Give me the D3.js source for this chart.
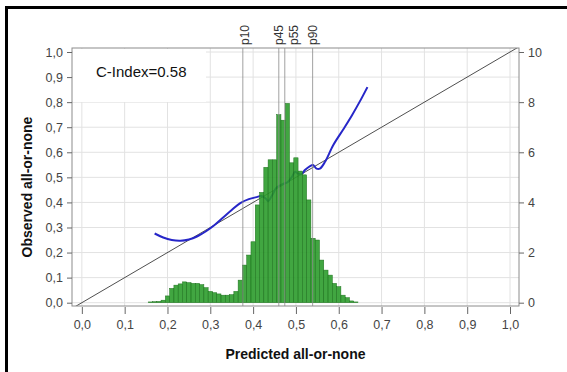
<!DOCTYPE html>
<html>
<head>
<meta charset="utf-8">
<script src="https://cdn.jsdelivr.net/npm/d3@7"></script>
<style>
  body { margin: 0; background: #fff; }
  text { font-family: "Liberation Sans", Arial, sans-serif; }
</style>
</head>
<body>
<div id="vis"></div>
<script>
// histogram: bin centres (predicted) and share in percent (right axis)
var binCenters = [0.16, 0.17, 0.18, 0.19, 0.20, 0.21, 0.22, 0.23, 0.24, 0.25,
    0.26, 0.27, 0.28, 0.29, 0.30, 0.31, 0.32, 0.33, 0.34, 0.35,
    0.36, 0.37, 0.38, 0.39, 0.40, 0.41, 0.42, 0.43, 0.44, 0.45,
    0.46, 0.47, 0.48, 0.49, 0.50, 0.51, 0.52, 0.53, 0.54, 0.55,
    0.56, 0.57, 0.58, 0.59, 0.60, 0.61, 0.62, 0.63, 0.64];
var binPercent = [0.03, 0.04, 0.05, 0.1, 0.27, 0.57, 0.7, 0.75, 0.83, 0.8,
    0.77, 0.77, 0.72, 0.6, 0.45, 0.4, 0.35, 0.3, 0.3, 0.32,
    0.45, 0.9, 1.5, 1.9, 2.43, 3.9, 4.4, 5.4, 5.7, 5.7,
    7.5, 7.28, 7.95, 5.58, 5.78, 5.25, 5.1, 4.1, 2.57, 2.5,
    1.7, 1.3, 1.1, 0.77, 0.64, 0.3, 0.2, 0.07, 0.03];

// calibration curve
var calPredicted = [0.17, 0.19, 0.21, 0.23, 0.25, 0.27, 0.29, 0.31, 0.33, 0.35,
    0.37, 0.39, 0.41, 0.42, 0.43, 0.435, 0.445, 0.455, 0.47, 0.48,
    0.49, 0.498, 0.505, 0.513, 0.521, 0.533, 0.54, 0.548, 0.556, 0.568,
    0.587, 0.61, 0.63, 0.65, 0.667];
var calObserved = [0.276, 0.26, 0.25, 0.247, 0.252, 0.265, 0.285, 0.31, 0.34, 0.37,
    0.397, 0.413, 0.422, 0.426, 0.415, 0.405, 0.43, 0.46, 0.474, 0.48,
    0.5, 0.522, 0.515, 0.513, 0.529, 0.545, 0.549, 0.535, 0.535, 0.562,
    0.628, 0.69, 0.745, 0.805, 0.86];

var pctNames = ['p10', 'p45', 'p55', 'p90'];
var pctValues = [0.376, 0.46, 0.474, 0.539];

var xTicks = [0, 0.1, 0.2, 0.3, 0.4, 0.5, 0.6, 0.7, 0.8, 0.9, 1.0];
var yTicks = [0, 0.1, 0.2, 0.3, 0.4, 0.5, 0.6, 0.7, 0.8, 0.9, 1.0];
var rightTicks = [0, 2, 4, 6, 8, 10];
var cIndex = 'C-Index=0.58';

var width = 567;
var height = 372;
var plot = {left: 72, right: 519, top: 48, bottom: 306};

var svg = d3.select('#vis').append('svg')
    .attr('width', width)
    .attr('height', height);

// outer border (left and top only)
svg.append('line').attr('x1', 6.5).attr('x2', 6.5).attr('y1', 6).attr('y2', height)
    .attr('stroke', '#000').attr('stroke-width', 3);
svg.append('line').attr('x1', 5).attr('x2', width).attr('y1', 7.5).attr('y2', 7.5)
    .attr('stroke', '#000').attr('stroke-width', 3);

var x = d3.scaleLinear().domain([-0.023, 1.021]).range([plot.left, plot.right]);
var y = d3.scaleLinear().domain([-0.0132, 1.016]).range([plot.bottom, plot.top]);
var yRight = d3.scaleLinear().domain([-0.132, 10.16]).range([plot.bottom, plot.top]);
var fmt = function (d) { return d3.format('.1f')(d).replace('.', ','); };

svg.append('defs').append('clipPath').attr('id', 'clip')
    .append('rect')
    .attr('x', plot.left).attr('y', plot.top)
    .attr('width', plot.right - plot.left).attr('height', plot.bottom - plot.top);

// grid
var grid = svg.append('g');
grid.selectAll('.gx').data(xTicks).enter().append('line')
    .attr('x1', function (d) { return x(d); })
    .attr('x2', function (d) { return x(d); })
    .attr('y1', plot.top).attr('y2', plot.bottom)
    .attr('stroke', '#e2e2e2').attr('stroke-width', 1);
grid.selectAll('.gy').data(yTicks).enter().append('line')
    .attr('x1', plot.left).attr('x2', plot.right)
    .attr('y1', function (d) { return y(d); })
    .attr('y2', function (d) { return y(d); })
    .attr('stroke', '#e2e2e2').attr('stroke-width', 1);

// white box behind the C-Index label
svg.append('rect')
    .attr('x', plot.left + 1).attr('y', plot.top + 1)
    .attr('width', 133).attr('height', 53)
    .attr('fill', '#fff');

var inner = svg.append('g').attr('clip-path', 'url(#clip)');

// diagonal
inner.append('line')
    .attr('x1', x(-0.05)).attr('y1', y(-0.05))
    .attr('x2', x(1.05)).attr('y2', y(1.05))
    .attr('stroke', '#222').attr('stroke-width', 0.8);

// calibration curve (under the bars)
var calData = calPredicted.map(function (p, i) { return [p, calObserved[i]]; });
var line = d3.line()
    .x(function (d) { return x(d[0]); })
    .y(function (d) { return y(d[1]); })
    .curve(d3.curveCatmullRom.alpha(0.5));
inner.append('path')
    .datum(calData)
    .attr('d', line)
    .attr('fill', 'none')
    .attr('stroke', '#2626c8')
    .attr('stroke-width', 2);

// histogram
inner.selectAll('.bar').data(binCenters).enter().append('rect')
    .attr('class', 'bar')
    .attr('x', function (d) { return x(d - 0.005); })
    .attr('width', function (d) { return x(d + 0.005) - x(d - 0.005); })
    .attr('y', function (d, i) { return yRight(binPercent[i]); })
    .attr('height', function (d, i) { return yRight(0) - yRight(binPercent[i]); })
    .attr('fill', '#2c9c2c')
    .attr('fill-opacity', 0.9)
    .attr('stroke', '#1c701c')
    .attr('stroke-width', 0.5);

// percentile lines
svg.selectAll('.pct').data(pctValues).enter().append('line')
    .attr('x1', function (d) { return x(d); })
    .attr('x2', function (d) { return x(d); })
    .attr('y1', plot.top).attr('y2', plot.bottom)
    .attr('stroke', '#8a8a8a').attr('stroke-opacity', 0.8).attr('stroke-width', 1);
var pctShift = {p55: 9, p10: 2};
svg.selectAll('.pctl').data(pctNames).enter().append('text')
    .attr('transform', function (d, i) {
        var px = x(pctValues[i]) + (pctShift[d] || 0) + 4;
        return 'translate(' + px + ',' + (plot.top - 3) + ') rotate(-90)';
    })
    .attr('font-size', 12)
    .attr('fill', '#333')
    .text(function (d) { return d; });

// frame
svg.append('rect')
    .attr('x', plot.left).attr('y', plot.top)
    .attr('width', plot.right - plot.left).attr('height', plot.bottom - plot.top)
    .attr('fill', 'none').attr('stroke', '#8c8c8c').attr('stroke-width', 1);

// axes
var axisStyle = function (g) {
    g.select('.domain').remove();
    g.selectAll('.tick line').attr('stroke', '#666');
    g.selectAll('.tick text')
        .attr('fill', '#444')
        .attr('font-size', 12.5)
        .attr('font-family', '"Liberation Sans", Arial, sans-serif');
};
svg.append('g')
    .attr('transform', 'translate(0,' + (plot.bottom + 1) + ')')
    .call(d3.axisBottom(x).tickValues(xTicks).tickFormat(fmt).tickSize(7).tickPadding(6))
    .call(axisStyle);
svg.append('g')
    .attr('transform', 'translate(' + plot.left + ',0)')
    .call(d3.axisLeft(y).tickValues(yTicks).tickFormat(fmt).tickSize(5).tickPadding(4))
    .call(axisStyle);
svg.append('g')
    .attr('transform', 'translate(' + plot.right + ',0)')
    .call(d3.axisRight(yRight).tickValues(rightTicks).tickSize(5).tickPadding(4))
    .call(axisStyle);

// labels
svg.append('text')
    .attr('x', 96).attr('y', 77)
    .attr('font-family', 'Lato, "Open Sans", sans-serif')
    .attr('font-size', 15)
    .attr('fill', '#111')
    .text(cIndex);

svg.append('text')
    .attr('x', (plot.left + plot.right) / 2).attr('y', 359)
    .attr('text-anchor', 'middle')
    .attr('font-family', 'Lato, "Open Sans", sans-serif')
    .attr('font-weight', 'bold')
    .attr('font-size', 14)
    .attr('fill', '#111')
    .text('Predicted all-or-none');

svg.append('text')
    .attr('transform', 'translate(32,' + ((plot.top + plot.bottom) / 2 + 10) + ') rotate(-90)')
    .attr('text-anchor', 'middle')
    .attr('font-family', 'Lato, "Open Sans", sans-serif')
    .attr('font-weight', 'bold')
    .attr('font-size', 14)
    .attr('fill', '#111')
    .text('Observed all-or-none');
</script>
</body>
</html>
